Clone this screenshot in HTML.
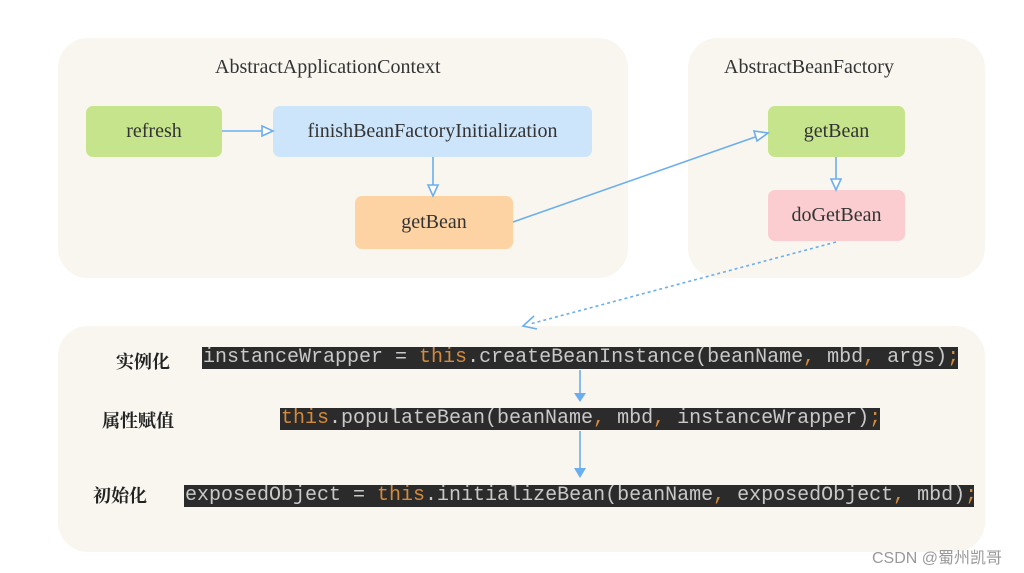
<!DOCTYPE html>
<html><head><meta charset="utf-8"><style>
body{margin:0;width:1024px;height:573px;background:#fff;position:relative;overflow:hidden;font-family:"Liberation Serif",serif}
.p{position:absolute;background:#f8f6ef;border-radius:30px}
.b{position:absolute;border-radius:7px;display:flex;align-items:center;justify-content:center;font-size:20px;color:#333}
.t{position:absolute;font-size:20px;color:#333}
.c{position:absolute;height:22px;background:#2b2b2b;color:#c9c9c9;font-family:"Liberation Mono",monospace;font-size:20px;line-height:22px;white-space:pre;padding-left:1px}
.o{color:#d48a3c}
.z{position:absolute;font-family:"Noto Serif CJK SC",serif;font-size:18px;font-weight:bold;color:#222}
</style></head><body>
<div class="p" style="left:58px;top:38px;width:570px;height:240px"></div>
<div class="p" style="left:688px;top:38px;width:297px;height:240px"></div>
<div class="p" style="left:58px;top:326px;width:927px;height:226px"></div>
<div class="t" style="left:215px;top:56px">AbstractApplicationContext</div>
<div class="t" style="left:724px;top:56px">AbstractBeanFactory</div>
<div class="b" style="left:86px;top:106px;width:136px;height:51px;background:#c6e48c">refresh</div>
<div class="b" style="left:273px;top:106px;width:319px;height:51px;background:#cde5fb">finishBeanFactoryInitialization</div>
<div class="b" style="left:355px;top:196px;width:158px;height:53px;background:#fdd3a3">getBean</div>
<div class="b" style="left:768px;top:106px;width:137px;height:51px;background:#c6e48c">getBean</div>
<div class="b" style="left:768px;top:190px;width:137px;height:51px;background:#fbcdd0">doGetBean</div>
<svg style="position:absolute;left:0;top:0" width="1024" height="573">
<g stroke="#6aaef0" stroke-width="1.6" fill="none">
<line x1="222" y1="131" x2="262" y2="131"/><polygon points="262,126 273,131 262,136" fill="#fff"/>
<line x1="433" y1="157" x2="433" y2="185"/><polygon points="428,185 433,196 438,185" fill="#fff"/>
<line x1="513" y1="222" x2="758" y2="136"/><polygon points="754,131 768,133 757,141" fill="#fff"/>
<line x1="836" y1="157" x2="836" y2="179"/><polygon points="831,179 836,190 841,179" fill="#fff"/>
<line x1="836" y1="242" x2="530" y2="324" stroke-dasharray="3,3"/>
<polyline points="534,316 523,326 537,329"/>
<line x1="580" y1="370" x2="580" y2="398"/>
<line x1="580" y1="431" x2="580" y2="472"/>
</g>
<polygon points="574,393 580,402 586,393" fill="#6aaef0"/>
<polygon points="574,468 580,478 586,468" fill="#6aaef0"/>
</svg>
<div class="z" style="left:116px;top:348px">实例化</div>
<div class="z" style="left:102px;top:407px">属性赋值</div>
<div class="z" style="left:93px;top:482px">初始化</div>
<div class="c" style="left:202px;top:347px;width:755px">instanceWrapper = <span class="o">this</span>.createBeanInstance(beanName<span class="o">,</span> mbd<span class="o">,</span> args)<span class="o">;</span></div>
<div class="c" style="left:280px;top:408px;width:599px"><span class="o">this</span>.populateBean(beanName<span class="o">,</span> mbd<span class="o">,</span> instanceWrapper)<span class="o">;</span></div>
<div class="c" style="left:184px;top:485px;width:789px">exposedObject = <span class="o">this</span>.initializeBean(beanName<span class="o">,</span> exposedObject<span class="o">,</span> mbd)<span class="o">;</span></div>
<div style="position:absolute;left:872px;top:544px;font-family:'Liberation Sans','Noto Sans CJK SC',sans-serif;font-size:16px;color:#999">CSDN @蜀州凯哥</div>
</body></html>
